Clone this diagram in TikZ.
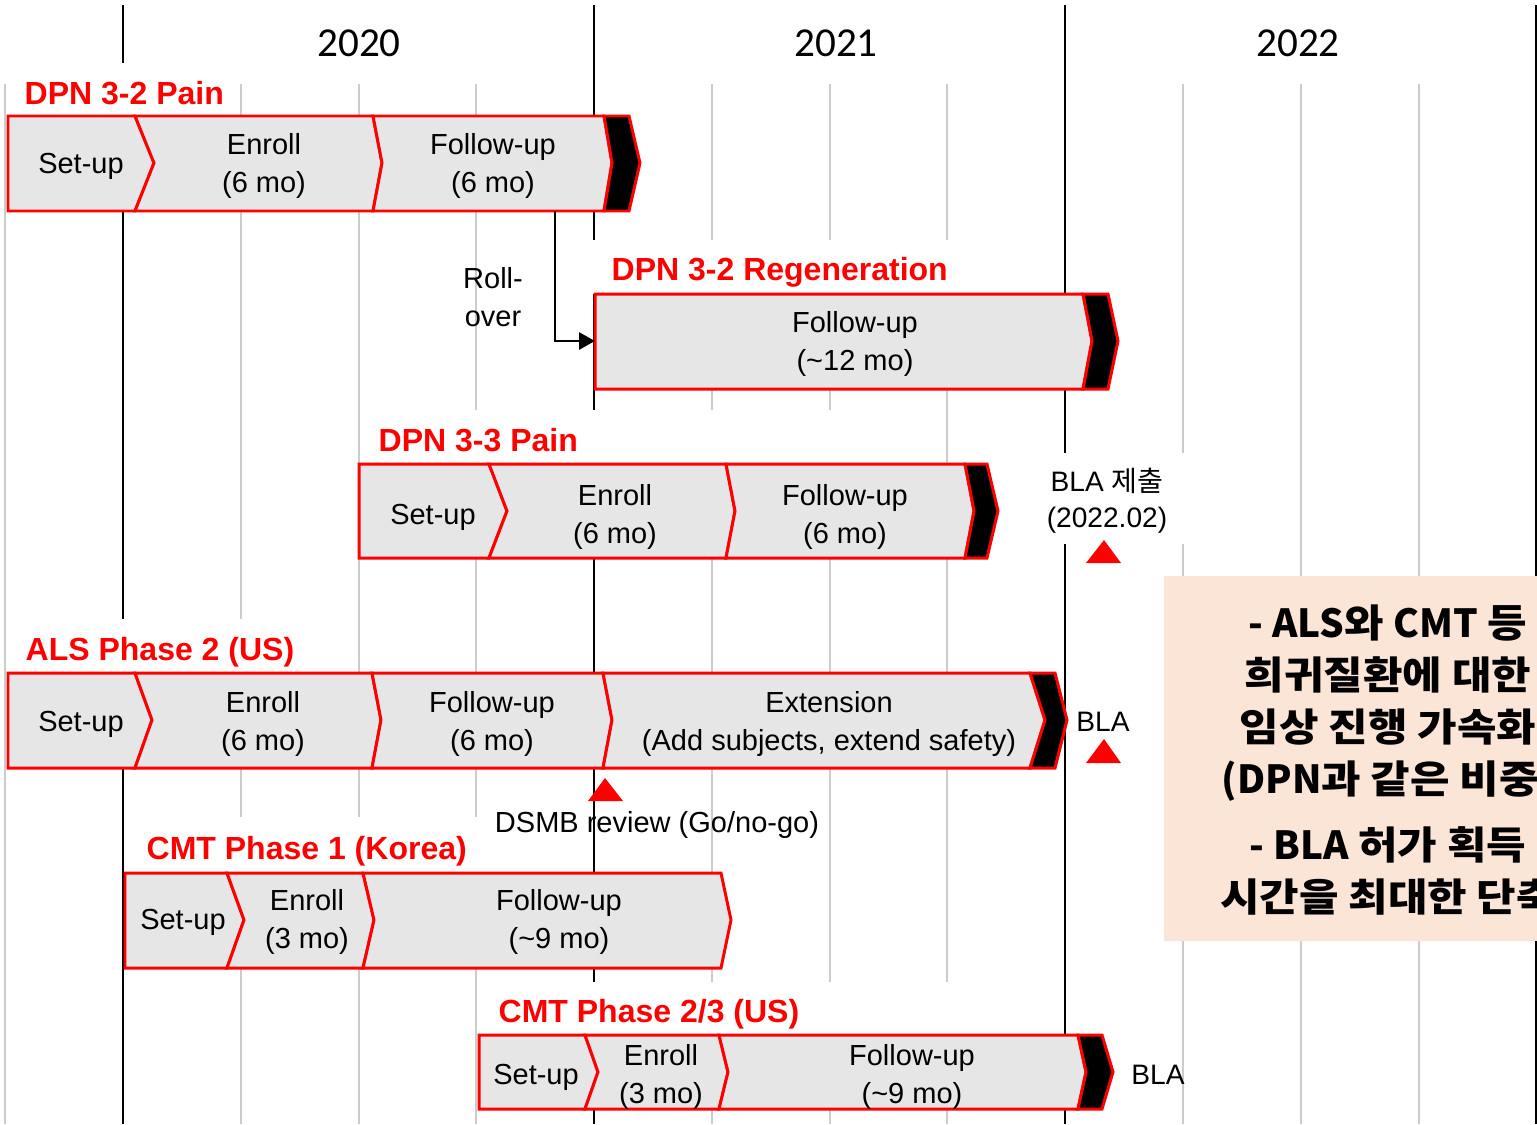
\documentclass[tikz,border=0pt]{standalone}
\usepackage{fontspec}
\setmainfont{Liberation Sans}
\newfontfamily\krfont{Noto Sans CJK KR}
\newfontfamily\krwide{Noto Sans CJK KR}[FakeStretch=1.11]
\newfontfamily\yearfont{Carlito}
\usepackage{tikz}
\usetikzlibrary{arrows.meta}

\definecolor{barred}{HTML}{FF0000}
\definecolor{barfill}{HTML}{E6E6E6}
\definecolor{gridgray}{HTML}{CCCCCC}
\definecolor{peach}{HTML}{FBE5D6}

\begin{document}
\begin{tikzpicture}[
    x=0.01cm, y=-0.01cm,
    year/.style={font=\yearfont\fontsize{11.7}{14}\selectfont},
    trial/.style={anchor=base west, inner sep=0pt, text=barred, font=\bfseries\fontsize{9.1}{11}\selectfont},
    phase/.style={draw=barred, fill=barfill, line width=0.85pt},
    endblk/.style={draw=barred, fill=black, line width=0.85pt},
    phasetxt/.style={align=center, inner sep=0pt, yshift=-0.03cm, font=\fontsize{8.25}{10.8}\selectfont},
    note/.style={align=center, inner sep=0pt, yshift=-0.02cm, font=\fontsize{8}{10.2}\selectfont},
    milestone/.style={fill=barred},
    gridmajor/.style={line width=0.5pt},
    gridminor/.style={draw=gridgray, line width=0.45pt},
    mask/.style={fill=white},
    rollarrow/.style={line width=0.8pt, -{Triangle[length=0.16cm, width=0.17cm]}}
]
\useasboundingbox (0,0) rectangle (1537,1124);
\clip (0,0) rectangle (1537,1124);

% quarter and year lines
\foreach \gx in {5,241,359,476,712,830,947,1183,1301,1419}
  \draw[gridminor] (\gx,84) -- (\gx,1124);
\foreach \gx in {123,594,1065,1536}
  \draw[gridmajor] (\gx,5) -- (\gx,1124);

\node[year] (y2020) at (359,43) {2020};
\node[year] (y2021) at (836,43) {2021};
\node[year] (y2022) at (1298,43) {2022};

% white boxes behind the titles
\fill[mask] (8,63) rectangle (236,116);
\fill[mask] (590,240) rectangle (1058,294);
\fill[mask] (362,410) rectangle (945,464);
\fill[mask] (1042,453) rectangle (1192,544);
\fill[mask] (9,619) rectangle (352,673);
\fill[mask] (128,817) rectangle (590,873);
\fill[mask] (482,982) rectangle (1058,1035);

% DPN 3-2 Pain
\node[trial] (t32p) at (24,104) {DPN 3-2 Pain};
\foreach \xl/\tl/\xr/\tr/\xt/\nm/\lbl in {8/8/135/154/81/s/{Set-up}, 135/154/373/382/264/e/{Enroll\\(6 mo)}, 373/382/604/612/493/f/{Follow-up\\(6 mo)}}{
  \draw[phase] (\xl,116) -- (\xr,116) -- (\tr,163) -- (\xr,211) -- (\xl,211) -- (\tl,163) -- cycle;
  \node[phasetxt] (p32-\nm) at (\xt,163) {\lbl};
}
\draw[endblk] (604,116) -- (629,116) -- (640,163) -- (629,211) -- (604,211) -- (612,163) -- cycle;

% DPN 3-2 Regeneration
\node[trial] (t32r) at (611,280) {DPN 3-2 Regeneration};
\draw[phase] (595,294) -- (1083,294) -- (1092,341) -- (1083,389) -- (595,389) -- cycle;
\node[phasetxt] (r32-f) at (855,341) {Follow-up\\(\textasciitilde 12 mo)};
\draw[endblk] (1083,294) -- (1108,294) -- (1118,341) -- (1108,389) -- (1083,389) -- (1092,341) -- cycle;

\coordinate (rollout) at (555,211);
\coordinate (rollin) at (595,341);
\draw[rollarrow] (rollout) |- (rollin);
\node[phasetxt] (roll) at (493,294) {Roll-\\over};

% DPN 3-3 Pain
\node[trial] (t33p) at (378,451) {DPN 3-3 Pain};
\foreach \xl/\tl/\xr/\tr/\xt/\nm/\lbl in {359/359/489/507/433/s/{Set-up}, 489/507/726/735/615/e/{Enroll\\(6 mo)}, 726/735/965/974/845/f/{Follow-up\\(6 mo)}}{
  \draw[phase] (\xl,464) -- (\xr,464) -- (\tr,511) -- (\xr,558) -- (\xl,558) -- (\tl,511) -- cycle;
  \node[phasetxt] (p33-\nm) at (\xt,514) {\lbl};
}
\draw[endblk] (965,464) -- (987,464) -- (998,511) -- (987,558) -- (965,558) -- (974,511) -- cycle;

% ALS Phase 2
\node[trial] (tals) at (25,660) {ALS Phase 2 (US)};
\foreach \xl/\tl/\xr/\tr/\xt/\nm/\lbl in {8/8/135/152/81/s/{Set-up}, 135/152/372/381/263/e/{Enroll\\(6 mo)}, 372/381/603/612/492/f/{Follow-up\\(6 mo)}, 603/612/1030/1045/829/x/{Extension\\(Add subjects, extend safety)}}{
  \draw[phase] (\xl,673) -- (\xr,673) -- (\tr,720) -- (\xr,768) -- (\xl,768) -- (\tl,720) -- cycle;
  \node[phasetxt] (als-\nm) at (\xt,721) {\lbl};
}
\draw[endblk] (1030,673) -- (1055,673) -- (1067,720) -- (1055,768) -- (1030,768) -- (1045,720) -- cycle;

% CMT Phase 1
\node[trial] (tcmt1) at (146,859) {CMT Phase 1 (Korea)};
\foreach \xl/\tl/\xr/\tr/\xt/\nm/\lbl in {125/125/227/244/183/s/{Set-up}, 227/244/363/374/307/e/{Enroll\\(3 mo)}, 363/374/721/731/559/f/{Follow-up\\(\textasciitilde 9 mo)}}{
  \draw[phase] (\xl,873) -- (\xr,873) -- (\tr,920) -- (\xr,968) -- (\xl,968) -- (\tl,920) -- cycle;
  \node[phasetxt] (cmt1-\nm) at (\xt,919) {\lbl};
}

% CMT Phase 2/3
\node[trial] (tcmt23) at (498,1022) {CMT Phase 2/3 (US)};
\foreach \xl/\tl/\xr/\tr/\xt/\nm/\lbl in {479/479/585/598/536/s/{Set-up}, 585/598/719/728/661/e/{Enroll\\(3 mo)}, 719/728/1078/1086/912/f/{Follow-up\\(\textasciitilde 9 mo)}}{
  \draw[phase] (\xl,1035) -- (\xr,1035) -- (\tr,1072) -- (\xr,1109) -- (\xl,1109) -- (\tl,1072) -- cycle;
  \node[phasetxt] (cmt23-\nm) at (\xt,1074) {\lbl};
}
\draw[endblk] (1078,1035) -- (1102,1035) -- (1113,1072) -- (1102,1109) -- (1078,1109) -- (1086,1072) -- cycle;

% milestones
\fill[milestone] (1104,540) -- (1121,563) -- (1086,563) -- cycle;
\fill[milestone] (1104,739) -- (1121,763) -- (1086,763) -- cycle;
\fill[milestone] (605,778) -- (623,801) -- (588,801) -- cycle;

\node[note] (bla1) at (1107,499) {BLA {\krfont 제출}\\(2022.02)};
\node[note] (bla2) at (1103,720) {BLA};
\node[note] (bla3) at (1158,1073) {BLA};
\node[phasetxt] (dsmb) at (657,822) {DSMB review (Go/no-go)};

% goals
\fill[peach] (1164,576) rectangle (1612,941);
\node[align=center, inner sep=0pt, font=\krwide\bfseries\fontsize{11}{14.8}\selectfont] (goal) at (1388,760)
  {{\krfont - ALS}와 {\krfont CMT} 등\\희귀질환에 대한\\임상 진행 가속화\\{\krfont (DPN}과 같은 비중{\krfont )}\\[0.13cm]{\krfont - BLA} 허가 획득\\시간을 최대한 단축};
\end{tikzpicture}
\end{document}
